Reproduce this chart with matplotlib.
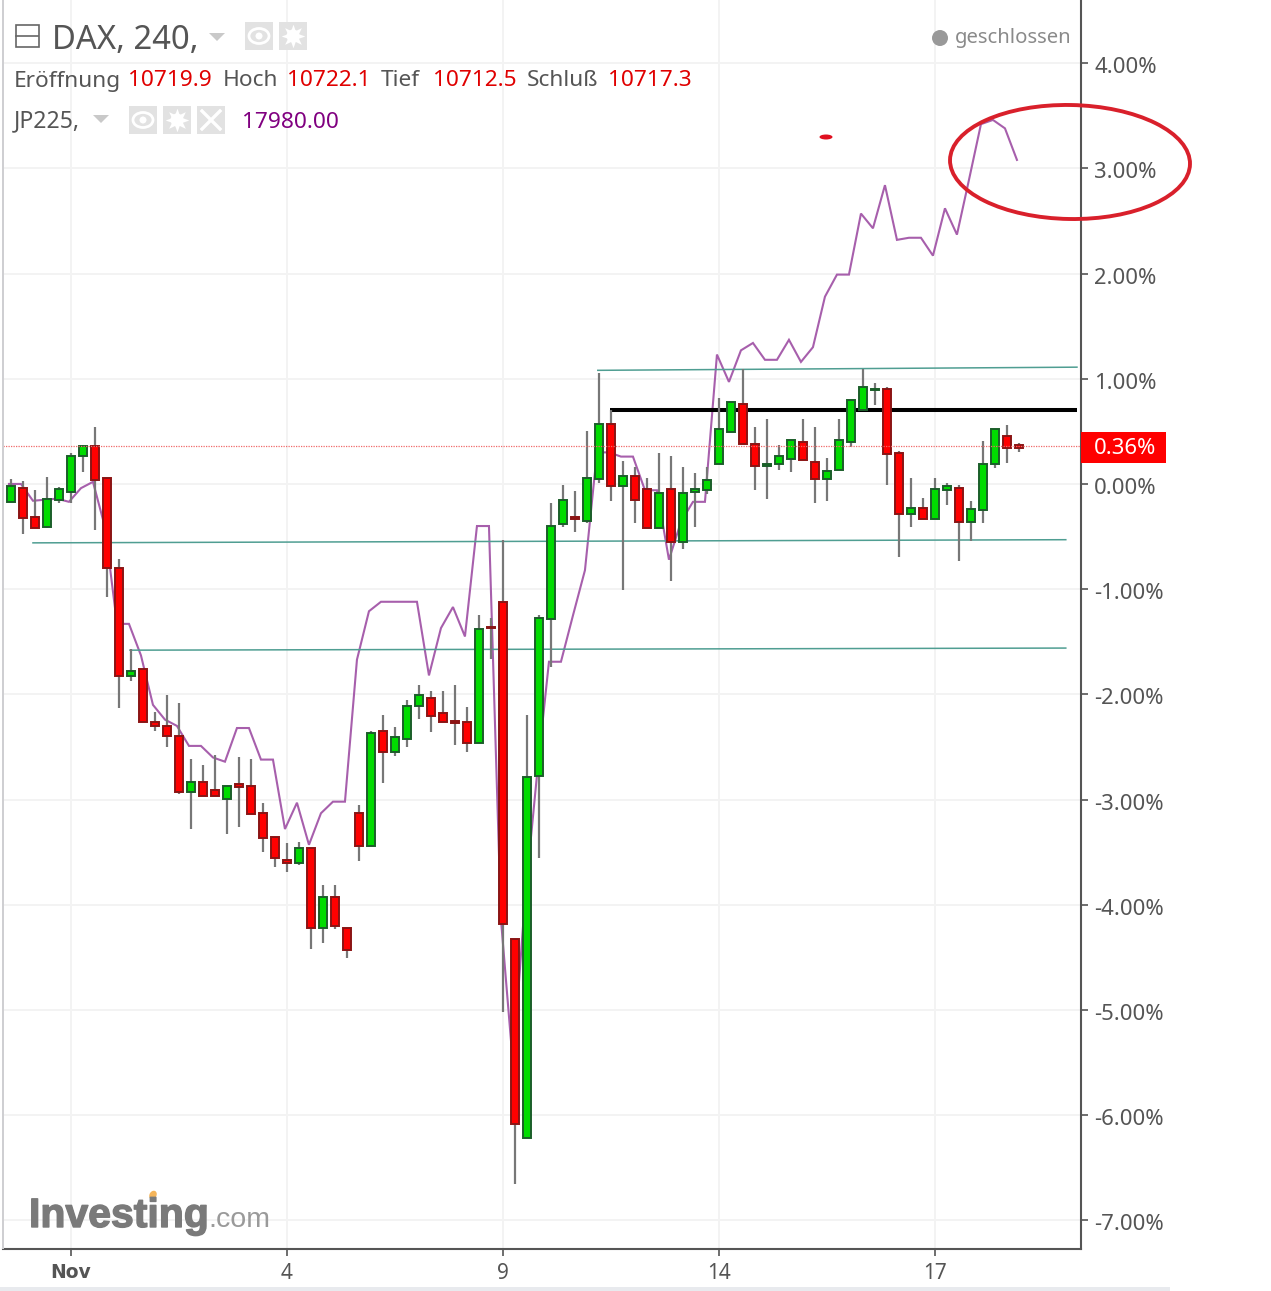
import matplotlib
matplotlib.use("Agg")
import matplotlib.pyplot as plt
from matplotlib.patches import Ellipse, Rectangle, Polygon, Circle
from matplotlib.ticker import FixedLocator, FuncFormatter
from matplotlib.transforms import ScaledTranslation
import matplotlib.patheffects as pe

# DAX 240 min candles, in percent from the reference price
opens = [-0.17,-0.04,-0.31,-0.41,-0.15,-0.08,0.27,0.36,0.06,-0.80,-1.83,-1.76,-2.26,-2.30,-2.40,-2.93,-2.83,-2.91,-2.99,-2.85,
         -2.87,-3.13,-3.36,-3.57,-3.60,-3.46,-4.22,-3.93,-4.22,-3.13,-3.44,-2.35,-2.55,-2.42,-2.11,-2.03,-2.18,-2.25,-2.26,-2.46,
         -1.36,-1.12,-4.33,-6.22,-2.78,-1.28,-0.38,-0.31,-0.35,0.05,0.57,-0.02,0.08,-0.05,-0.42,-0.05,-0.55,-0.08,-0.06,0.19,
         0.49,0.76,0.38,0.17,0.19,0.24,0.40,0.21,0.05,0.13,0.40,0.70,0.89,0.90,0.29,-0.29,-0.23,-0.33,-0.06,-0.04,-0.36,-0.25,0.19,0.46,0.37]
highs = [0.05,0.03,-0.06,0.07,-0.03,0.29,0.37,0.54,0.06,-0.71,-1.57,-1.76,-2.17,-2.01,-2.08,-2.61,-2.67,-2.58,-2.87,-2.60,
         -2.61,-3.03,-3.36,-3.41,-3.40,-3.46,-3.81,-3.81,-4.22,-3.05,-2.35,-2.20,-2.31,-2.05,-1.91,-1.97,-1.97,-1.91,-2.12,-1.25,
         -1.27,-0.53,-4.33,-2.20,-1.25,-0.18,-0.01,-0.07,0.50,1.05,0.70,0.22,0.16,0.06,0.29,0.27,0.16,0.10,0.16,0.82,
         0.78,1.09,0.54,0.62,0.37,0.42,0.62,0.54,0.25,0.62,0.80,1.09,0.96,0.92,0.31,0.06,-0.13,0.06,0.01,-0.01,-0.16,0.41,0.52,0.56,0.39]
lows = [-0.17,-0.48,-0.42,-0.42,-0.18,-0.18,0.11,-0.44,-1.07,-2.13,-1.87,-2.26,-2.35,-2.50,-2.95,-3.28,-2.97,-2.97,-3.33,-3.26,
        -3.14,-3.50,-3.64,-3.69,-3.62,-4.42,-4.36,-4.23,-4.51,-3.58,-3.44,-2.84,-2.59,-2.50,-2.23,-2.36,-2.26,-2.48,-2.55,-2.46,
        -1.66,-5.02,-6.65,-6.22,-3.56,-1.74,-0.41,-0.46,-0.37,0.01,-0.16,-1.01,-0.37,-0.42,-0.42,-0.92,-0.62,-0.41,-0.10,0.19,
        0.49,0.38,-0.06,-0.14,0.13,0.11,0.23,-0.18,-0.16,0.13,0.35,0.70,0.75,-0.01,-0.69,-0.41,-0.33,-0.33,-0.20,-0.73,-0.54,-0.37,0.15,0.20,0.30]
closes = [-0.02,-0.32,-0.42,-0.14,-0.05,0.27,0.36,0.04,-0.80,-1.83,-1.78,-2.26,-2.30,-2.40,-2.93,-2.83,-2.97,-2.97,-2.87,-2.88,
          -3.14,-3.37,-3.56,-3.60,-3.46,-4.22,-3.93,-4.20,-4.43,-3.44,-2.37,-2.55,-2.41,-2.11,-2.01,-2.21,-2.26,-2.27,-2.46,-1.38,
          -1.37,-4.18,-6.08,-2.79,-1.27,-0.40,-0.15,-0.33,0.06,0.57,-0.02,0.08,-0.15,-0.42,-0.09,-0.55,-0.09,-0.05,0.04,0.52,
          0.78,0.38,0.17,0.19,0.27,0.42,0.23,0.05,0.12,0.42,0.80,0.92,0.90,0.28,-0.29,-0.23,-0.33,-0.05,-0.02,-0.36,-0.24,0.19,0.52,0.34,0.34]
# JP225 comparison line, in percent
jp225 = [0.00,0.00,-0.16,-0.15,-0.14,-0.17,-0.04,0.02,-0.41,-1.33,-1.33,-1.63,-2.10,-2.24,-2.30,-2.49,-2.49,-2.60,-2.64,-2.32,
         -2.32,-2.62,-2.62,-3.28,-3.03,-3.43,-3.13,-3.02,-3.02,-1.67,-1.21,-1.12,-1.12,-1.12,-1.12,-1.82,-1.37,-1.17,-1.45,-0.40,
         -0.40,-4.14,-5.52,-3.95,-2.77,-1.69,-1.69,-1.25,-0.82,0.30,0.30,0.26,0.26,-0.06,-0.06,-0.72,-0.36,-0.17,-0.17,1.23,
         0.97,1.27,1.34,1.18,1.18,1.37,1.16,1.30,1.78,1.99,1.99,2.57,2.43,2.84,2.32,2.34,2.34,2.17,2.62,2.37,2.89,3.42,3.46,3.38,3.08]
# Hand-drawn trend lines: (start index, end index, start pct, end pct)
teal_lines = [(1.83, 87.9, -0.56, -0.53), (9.92, 87.9, -1.58, -1.56), (48.9, 88.83, 1.08, 1.11)]
black_line = (49.9, 88.83, 0.70, 0.70)
last_pct = 0.36
y_ticks = [-7, -6, -5, -4, -3, -2, -1, 0, 1, 2, 3, 4]
x_tick_pos = [5, 23, 41, 59, 77]
x_tick_labels = ["Nov", "4", "9", "14", "17"]

W, H = 1271, 1291
FONT = "Noto Sans"
GRAY = "#555555"
fig = plt.figure(figsize=(W / 100, H / 100), dpi=100, facecolor="white")
ax = fig.add_axes([3 / W, (H - 1249) / H, 1078 / W, 1249 / H])
ax.set_xlim(-0.667, 89.167)
ax.set_ylim(-7.272, 4.60)

for s in ("top", "left"):
    ax.spines[s].set_visible(False)
for s in ("right", "bottom"):
    ax.spines[s].set_color(GRAY)
    ax.spines[s].set_linewidth(1.5)

ax.grid(True, color="#f3f3f3", lw=1.4, zorder=0)
ax.set_axisbelow(True)
ax.yaxis.tick_right()
ax.yaxis.set_major_locator(FixedLocator(y_ticks))
ax.yaxis.set_major_formatter(FuncFormatter(lambda v, p: f"{v:.2f}%"))
ax.xaxis.set_major_locator(FixedLocator(x_tick_pos))
ax.set_xticklabels(x_tick_labels)
ax.tick_params(axis="y", length=5, width=1.2, color=GRAY, labelcolor=GRAY, labelsize=15.9, pad=4.5)
ax.tick_params(axis="x", length=5, width=1.2, color=GRAY, labelcolor=GRAY, labelsize=15, pad=5)
shift = ScaledTranslation(0, -2 / 100, fig.dpi_scale_trans)
for tick in ax.yaxis.get_major_ticks():
    tick.label2.set_fontfamily(FONT)
    tick.label2.set_transform(tick.label2.get_transform() + shift)
for lab in ax.get_xticklabels():
    lab.set_fontfamily(FONT)
first = ax.get_xticklabels()[0]
first.set_fontfamily("DejaVu Sans")
first.set_fontweight("bold")
first.set_fontsize(13.5)

idx = list(range(len(opens)))
ax.plot([i - 0.17 for i in idx], jp225, color="#a75fac", lw=1.5, zorder=2, solid_joinstyle="miter")
for x0, x1, y0, y1 in teal_lines:
    ax.plot([x0, x1], [y0, y1], color="#4f9e92", lw=1.1, zorder=2.2)
ax.plot(black_line[:2], black_line[2:], color="black", lw=2.9, zorder=2.3, solid_capstyle="butt")

ax.vlines(idx, lows, highs, color="#777777", lw=1.6, zorder=3)
for i, o, c in zip(idx, opens, closes):
    up = c >= o
    ax.bar(i, abs(c - o), bottom=min(o, c), width=0.68,
           color="#00dc00" if up else "#ff0000",
           edgecolor="#1b5e2a" if up else "#8a1414", linewidth=1.4, zorder=4)

ax.axhline(last_pct, color="#f06a6a", lw=0.9, ls=(0, (1, 1)), zorder=5)

# Overlay in pixel space for the chart chrome
ov = fig.add_axes([0, 0, 1, 1], facecolor="none")
ov.set_xlim(0, W)
ov.set_ylim(H, 0)
ov.axis("off")

ov.add_patch(Rectangle((2, 0), 2, 1249, color="#cfcfd2", lw=0))
ov.add_patch(Rectangle((0, 1287), 1170, 4, color="#e8eaee", lw=0))

# Price label
ov.add_patch(Rectangle((1081, 432), 85, 31, color="#ff0000", lw=0))
ov.text(1094, 448.5, "0.36%", color="white", fontsize=15.9, family=FONT, va="center", ha="left")

# Header
ov.add_patch(Rectangle((15.5, 24.5), 23, 22, fc="white", ec="#666666", lw=1.2))
ov.plot([16, 38], [35.5, 35.5], color="#666666", lw=1.2)
ov.text(52, 40.5, "DAX, 240,", color=GRAY, fontsize=23.6, family=FONT, va="center", ha="left")


def caret(cx, cy):
    ov.add_patch(Polygon([(cx - 8, cy - 4), (cx + 8, cy - 4), (cx, cy + 4)], color="#c9c9c9", lw=0))


def box(x0, y0):
    ov.add_patch(Rectangle((x0, y0), 28, 28, color="#e2e2e2", lw=0))


def eye(x0, y0):
    box(x0, y0)
    ov.add_patch(Ellipse((x0 + 14, y0 + 14), 20, 15, fc="none", ec="white", lw=2))
    ov.add_patch(Circle((x0 + 14, y0 + 14), 3.5, color="white", lw=0))


def gear(x0, y0):
    box(x0, y0)
    ov.plot([x0 + 14], [y0 + 14], marker=(8, 1, 0), ms=17, color="white", mew=0)
    ov.add_patch(Circle((x0 + 14, y0 + 14), 6.5, color="white", lw=0))
    ov.add_patch(Circle((x0 + 14, y0 + 14), 3, color="#e2e2e2", lw=0))


def cross(x0, y0):
    box(x0, y0)
    ov.plot([x0 + 5, x0 + 23], [y0 + 5, y0 + 23], color="white", lw=2.4)
    ov.plot([x0 + 23, x0 + 5], [y0 + 5, y0 + 23], color="white", lw=2.4)


caret(217, 37)
eye(245, 22)
gear(279, 22)
caret(101, 119)
eye(129, 106)
gear(163, 106)
cross(197, 106)

row2 = [(14, "Eröffnung", GRAY), (128, "10719.9", "#e00000"), (223, "Hoch", GRAY), (287, "10722.1", "#e00000"),
        (381, "Tief", GRAY), (433, "10712.5", "#e00000"), (527, "Schluß", GRAY), (608, "10717.3", "#e00000")]
for x, s, c in row2:
    ov.text(x, 81, s, color=c, fontsize=16.3, family=FONT, va="center", ha="left")
ov.text(14, 121, "JP225,", color=GRAY, fontsize=16.6, family=FONT, va="center", ha="left")
ov.text(242, 122, "17980.00", color="#800080", fontsize=16.3, family=FONT, va="center", ha="left")

ov.add_patch(Circle((940, 38), 8, color="#999999", lw=0))
ov.text(955, 38, "geschlossen", color="#8a8a8a", fontsize=14.6, family=FONT, va="center", ha="left")

# Hand-drawn annotations
ov.add_patch(Ellipse((1070, 162), 240, 114, angle=1, fc="none", ec="#d9202b", lw=2.8))
ov.add_patch(Ellipse((826, 137), 13, 5, color="#e01020", lw=0))

# Logo
logo = ov.text(29, 1227, "Investing", color="#7a7a7a", fontsize=29.5, family="Liberation Sans", weight="bold",
               va="baseline", ha="left")
logo.set_path_effects([pe.withStroke(linewidth=1.0, foreground="#7a7a7a")])
ov.text(208, 1227, ".com", color="#9a9a9a", fontsize=20.5, family="Liberation Sans", va="baseline", ha="left")
ov.add_patch(Ellipse((153, 1195), 7, 9, angle=30, color="#f5b55a", lw=0))

fig.savefig("out.png", dpi=100, facecolor="white")
